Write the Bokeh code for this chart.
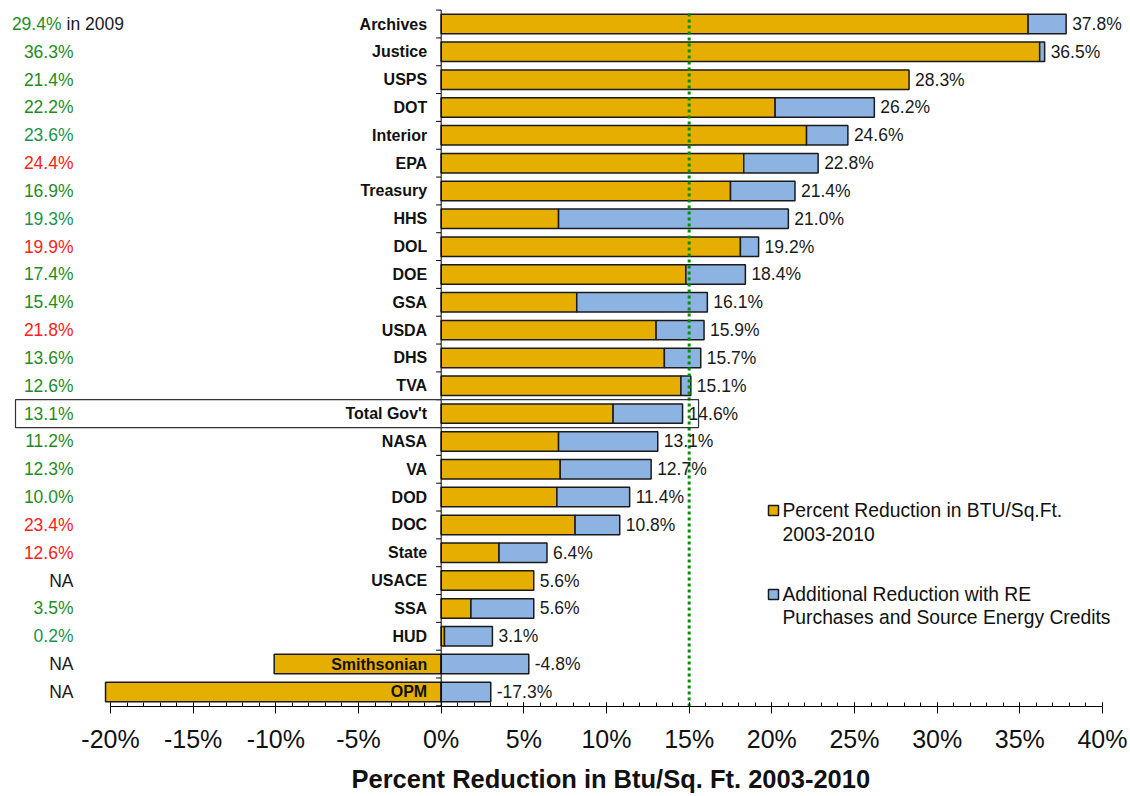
import numpy as np
from bokeh.plotting import figure
from bokeh.models import Range1d, SingleIntervalTicker, PrintfTickFormatter, Title
from bokeh.core.properties import value
from bokeh.embed import file_html
from bokeh.resources import INLINE

# ---------------- data ----------------
agencies = ["Archives", "Justice", "USPS", "DOT", "Interior", "EPA", "Treasury", "HHS",
            "DOL", "DOE", "GSA", "USDA", "DHS", "TVA", "Total Gov't", "NASA", "VA",
            "DOD", "DOC", "State", "USACE", "SSA", "HUD", "Smithsonian", "OPM"]
# Percent reduction in BTU/Sq.Ft. 2003-2010
base_pct = [35.5, 36.2, 28.3, 20.2, 22.1, 18.3, 17.5, 7.1,
            18.1, 14.8, 8.2, 13.0, 13.5, 14.5, 10.4, 7.1, 7.2,
            7.0, 8.1, 3.5, 5.6, 1.8, 0.2, -10.1, -20.3]
# Additional reduction with RE purchases and source energy credits
extra_pct = [2.3, 0.3, 0.0, 6.0, 2.5, 4.5, 3.9, 13.9,
             1.1, 3.6, 7.9, 2.9, 2.2, 0.6, 4.2, 6.0, 5.5,
             4.4, 2.7, 2.9, 0.0, 3.8, 2.9, 5.3, 3.0]
# 2009 values (left column)
prior_2009 = ["29.4%", "36.3%", "21.4%", "22.2%", "23.6%", "24.4%", "16.9%", "19.3%",
              "19.9%", "17.4%", "15.4%", "21.8%", "13.6%", "12.6%", "13.1%", "11.2%", "12.3%",
              "10.0%", "23.4%", "12.6%", "NA", "3.5%", "0.2%", "NA", "NA"]
prior_colors = ["#1f8c1f", "#1f8c1f", "#1f8c1f", "#1f8c1f", "#1a9450", "#ff2020", "#1f8c1f", "#1a9450",
                "#ff2020", "#1f8c1f", "#1f8c1f", "#ff2020", "#1f8c1f", "#1f8c1f", "#1f8c1f", "#1f8c1f", "#1f8c1f",
                "#1f8c1f", "#ff2020", "#ff2020", "#1a1a1a", "#1f8c1f", "#1a9450", "#1a1a1a", "#1a1a1a"]
legend_labels = [["Percent Reduction in BTU/Sq.Ft.", "2003-2010"],
                 ["Additional Reduction with RE", "Purchases and Source Energy Credits"]]
GOAL = 15.0
X_MIN, X_MAX = -20, 40
AXIS_TITLE = "Percent Reduction in Btu/Sq. Ft. 2003-2010"

# ---------------- layout constants ----------------
FRAME_W, FRAME_H = 1130, 706
AX_LEFT_PX, AX_RIGHT_PX = 110, 1102
PX_PER = (AX_RIGHT_PX - AX_LEFT_PX) / (X_MAX - X_MIN)
ROW_PX = 27.83
ROW0_PX = 23.5
x_start = X_MIN - AX_LEFT_PX / PX_PER
x_end = X_MAX + (FRAME_W - AX_RIGHT_PX) / PX_PER
y_top = -(ROW0_PX / ROW_PX)
y_bottom = y_top + FRAME_H / ROW_PX


def px2x(px):
    return x_start + px / PX_PER


def py2row(py):
    return (py - ROW0_PX) / ROW_PX


GOLD = "#E6AF00"
BLUE = "#8DB3E2"
EDGE = "#1a1a1a"
FONT = value("Liberation Sans")

n = len(agencies)
rows = np.arange(n)
base = np.array(base_pct)
extra = np.array(extra_pct)
gold_left = np.minimum(base, 0)
gold_right = np.maximum(base, 0)
blue_left = np.maximum(base, 0)
blue_right = blue_left + extra
total = base + extra
bar_end = np.maximum(gold_right, blue_right)
total_labels = [f"{t:.1f}%" for t in total]

p = figure(frame_width=FRAME_W, frame_height=FRAME_H,
           x_range=Range1d(x_start, x_end), y_range=Range1d(y_bottom, y_top),
           output_backend="svg", toolbar_location=None, y_axis_location=None,
           min_border=0, min_border_bottom=88, background_fill_color="white",
           border_fill_color="white", outline_line_color=None)
p.grid.visible = False

# bars
p.hbar(y=rows, left=gold_left, right=gold_right, height=0.7,
       fill_color=GOLD, line_color=EDGE, line_width=1.5)
mask = extra > 0
p.hbar(y=rows[mask], left=blue_left[mask], right=blue_right[mask], height=0.7,
       fill_color=BLUE, line_color=EDGE, line_width=1.5)

# vertical axis at zero with ticks between categories
bounds = np.arange(n + 1) - 0.5
p.segment(x0=0, y0=bounds[0], x1=0, y1=y_bottom, line_color="black", line_width=1)
p.segment(x0=np.zeros(n + 1), y0=bounds, x1=np.full(n + 1, -5 / PX_PER), y1=bounds,
          line_color="black", line_width=1)

# goal line
p.segment(x0=GOAL, y0=py2row(13), x1=GOAL, y1=y_bottom, line_color="#008f00",
          line_width=3, line_dash="3 3")

# category labels
p.text(x=np.zeros(n), y=rows, text=agencies, x_offset=-14, text_align="right",
       text_baseline="middle", text_font=FONT, text_font_size="16px",
       text_font_style="bold", text_color="#111111")

# value labels
p.text(x=bar_end, y=rows, text=total_labels, x_offset=6, text_align="left",
       text_baseline="middle", text_font=FONT, text_font_size="17.5px", text_color="#1a1a1a")

# 2009 column
p.text(x=np.full(n - 1, px2x(73)), y=rows[1:], text=prior_2009[1:], text_align="right",
       text_baseline="middle", text_font=FONT, text_font_size="17.5px",
       text_color=prior_colors[1:])
p.text(x=[px2x(61)], y=[0], text=[prior_2009[0]], text_align="right",
       text_baseline="middle", text_font=FONT, text_font_size="17.5px",
       text_color=prior_colors[0])
p.text(x=[px2x(66)], y=[0], text=["in 2009"], text_align="left",
       text_baseline="middle", text_font=FONT, text_font_size="17.5px",
       text_color="#1a1a1a")

# Total Gov't highlight box
gi = agencies.index("Total Gov't")
p.quad(left=[px2x(15)], right=[bar_end[gi] + 16 / PX_PER], top=[gi - 0.5], bottom=[gi + 0.5],
       fill_color=None, line_color="#333333", line_width=1.2)

# legend (manual)
leg_colors = [GOLD, BLUE]
leg_py = [510, 594]
for col, py, lines in zip(leg_colors, leg_py, legend_labels):
    p.scatter(x=[px2x(773)], y=[py2row(py)], marker="square", size=10,
              fill_color=col, line_color=EDGE, line_width=1.5)
    p.text(x=[px2x(782)] * len(lines), y=[py2row(py + 23 * k) for k in range(len(lines))],
           text=lines, text_align="left", text_baseline="middle", text_font=FONT,
           text_font_size="19.3px", text_color="#111111")

# x axis
xa = p.xaxis[0]
xa.bounds = (X_MIN, X_MAX)
xa.ticker = SingleIntervalTicker(interval=5, num_minor_ticks=5)
xa.formatter = PrintfTickFormatter(format="%d%%")
xa.axis_line_color = "black"
xa.major_tick_line_color = "black"
xa.minor_tick_line_color = "black"
xa.major_tick_in = 4
xa.major_tick_out = 7
xa.minor_tick_in = 4
xa.minor_tick_out = 0
xa.major_label_text_font = "Liberation Sans"
xa.major_label_text_font_size = "25px"
xa.major_label_text_color = "#111111"
xa.major_label_standoff = 11

# axis title, left edge placed so it is centred under the axis span
t = Title(text=AXIS_TITLE, align="left", offset=351,
          text_font="Liberation Sans", text_font_size="25.5px", text_font_style="bold",
          text_color="#111111", standoff=14)
p.add_layout(t, "below")

open("out.html", "w").write(file_html(p, INLINE))
